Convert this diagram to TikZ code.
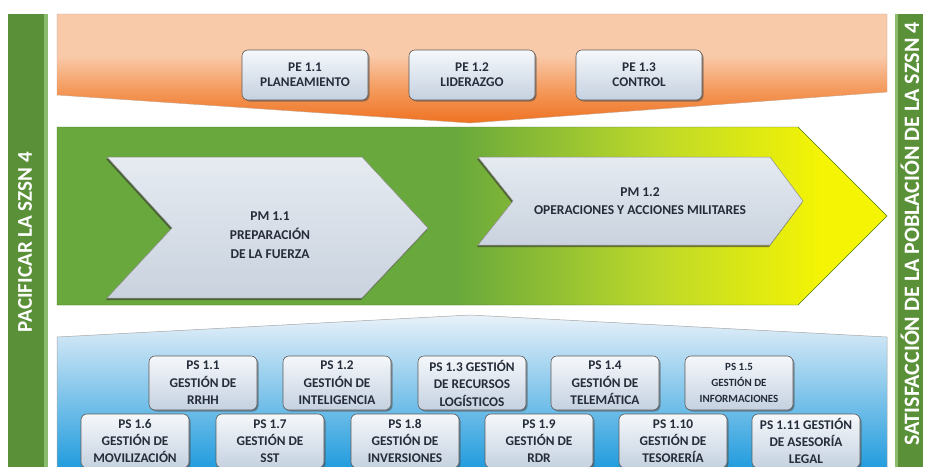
\documentclass[tikz,border=0pt]{standalone}
\usepackage{fontspec}
\setmainfont{Carlito}
\usepackage{xcolor}
\usepackage{tikz}
\usetikzlibrary{shadows}

\definecolor{sidegreen}{HTML}{5A9038}
\definecolor{sidelight}{HTML}{8DBB6E}
\definecolor{pepeach}{HTML}{F9CAAA}
\definecolor{pemid}{HTML}{F4995A}
\definecolor{pedeep}{HTML}{EE7222}
\definecolor{pmgreen}{HTML}{68A83C}
\definecolor{pmlime}{HTML}{BCD82A}
\definecolor{pmyellow}{HTML}{F4F404}
\definecolor{pstop}{HTML}{E8F1F9}
\definecolor{psmid}{HTML}{9ACEEE}
\definecolor{psbot}{HTML}{1F9BDD}
\definecolor{boxtop}{HTML}{F5F8FB}
\definecolor{boxbot}{HTML}{C5D1E0}
\definecolor{boxline}{HTML}{5E5A58}
\definecolor{chevtop}{HTML}{E6EBF1}
\definecolor{chevbot}{HTML}{C9D2DE}
\definecolor{txtdark}{HTML}{262D3A}

\pgfdeclareverticalshading{peshade}{100bp}{color(0bp)=(pedeep); color(25bp)=(pedeep); color(40bp)=(pemid); color(56bp)=(pepeach); color(100bp)=(pepeach)}
\pgfdeclarehorizontalshading{pmshade}{100bp}{color(0bp)=(pmgreen); color(25bp)=(pmgreen); color(49bp)=(pmgreen); color(61bp)=(pmlime); color(71bp)=(pmyellow); color(100bp)=(pmyellow)}

\begin{document}
\begin{tikzpicture}[x=1pt, y=-1pt,
    every node/.style={font=\bfseries, text=txtdark, align=center, inner sep=2pt},
    procbox/.style={draw=boxline, line width=0.6pt, rounded corners=6pt,
        top color=boxtop, bottom color=boxbot,
        drop shadow={shadow xshift=1.5pt, shadow yshift=-1.5pt, opacity=0.55, fill=black!70},
        minimum width=108pt, minimum height=54pt,
        font=\bfseries\fontsize{13.3}{17.5}\selectfont},
    pebox/.style={procbox, minimum width=126pt, minimum height=50pt,
        font=\bfseries\fontsize{13.3}{15}\selectfont},
    lowrow/.style={procbox, font=\bfseries\fontsize{13.3}{17}\selectfont},
    smalltext/.style={font=\bfseries\fontsize{11}{16}\selectfont},
    pmtext/.style={font=\bfseries\fontsize{13.5}{19}\selectfont},
    sidetext/.style={rotate=90, text=white, font=\bfseries\fontsize{21}{24}\selectfont},
    chevron/.style={draw=boxline!70, line width=0.5pt, top color=chevtop, bottom color=chevbot,
        drop shadow={shadow xshift=-1pt, shadow yshift=-2pt, opacity=0.6, fill=black!80}}]
    \useasboundingbox (0,0) rectangle (925,466);
    \clip (0,0) rectangle (925,466);

    % side bars
    \fill[sidegreen] (8,14) rectangle (48,470);
    \fill[sidelight] (44,14) rectangle (48,470);
    \fill[sidegreen] (895,14) rectangle (923,470);
    \fill[sidelight] (895,14) rectangle (898,470);
    \node[sidetext] (pacificar) at (25,242) {PACIFICAR LA SZSN 4};
    \node[sidetext, font=\bfseries\fontsize{22}{24}\selectfont] (satisfaccion) at (910,234) {SATISFACCIÓN DE LA POBLACIÓN DE LA SZSN 4};

    % estrategicos
    \path[shading=peshade, draw=pepeach!80!black, line width=0.4pt]
        (57,14) -- (887,14) -- (887,92) -- (470,123) -- (57,95) -- cycle;
    \node[pebox] (pe11) at (305,75) {PE 1.1\\PLANEAMIENTO};
    \node[pebox] (pe12) at (472,75) {PE 1.2\\LIDERAZGO};
    \node[pebox] (pe13) at (639,75) {PE 1.3\\CONTROL};

    % misionales
    \path[shading=pmshade, draw=pmgreen!70!black, line width=0.4pt]
        (57,127) -- (798,127) -- (887,216) -- (798,305) -- (57,305) -- cycle;
    \path[chevron] (107,157) -- (362,157) -- (428,228) -- (362,298) -- (107,298) -- (172,228) -- cycle;
    \path[chevron] (478,157) -- (770,157) -- (803,201) -- (770,245) -- (478,245) -- (513,201) -- cycle;
    \node[pmtext] (pm11) at (270,235) {PM 1.1\\PREPARACIÓN\\DE LA FUERZA};
    \node[pmtext, font=\bfseries\fontsize{13.5}{18}\selectfont] (pm12) at (640,201) {PM 1.2\\OPERACIONES Y ACCIONES MILITARES};

    % soporte
    \path[top color=pstop, middle color=psmid, bottom color=psbot, draw=gray!70, line width=0.5pt]
        (57,470) -- (57,337) -- (470,315) -- (887,337) -- (887,470) -- cycle;
    \node[procbox] (ps11) at (203,383) {PS 1.1\\GESTIÓN DE\\RRHH};
    \node[procbox] (ps12) at (337,383) {PS 1.2\\GESTIÓN DE\\INTELIGENCIA};
    \node[procbox] (ps13) at (472,383) {PS 1.3 GESTIÓN\\DE RECURSOS\\LOGÍSTICOS};
    \node[procbox] (ps14) at (605,383) {PS 1.4\\GESTIÓN DE\\TELEMÁTICA};
    \node[procbox, smalltext] (ps15) at (739,383) {PS 1.5\\GESTIÓN DE\\INFORMACIONES};
    \node[lowrow] (ps16) at (135,441) {PS 1.6\\GESTIÓN DE\\MOVILIZACIÓN};
    \node[lowrow] (ps17) at (270,441) {PS 1.7\\GESTIÓN DE\\SST};
    \node[lowrow] (ps18) at (405,441) {PS 1.8\\GESTIÓN DE\\INVERSIONES};
    \node[lowrow] (ps19) at (539,441) {PS 1.9\\GESTIÓN DE\\RDR};
    \node[lowrow] (ps110) at (673,441) {PS 1.10\\GESTIÓN DE\\TESORERÍA};
    \node[lowrow] (ps111) at (806,441) {PS 1.11 GESTIÓN\\DE ASESORÍA\\LEGAL};
\end{tikzpicture}
\end{document}
